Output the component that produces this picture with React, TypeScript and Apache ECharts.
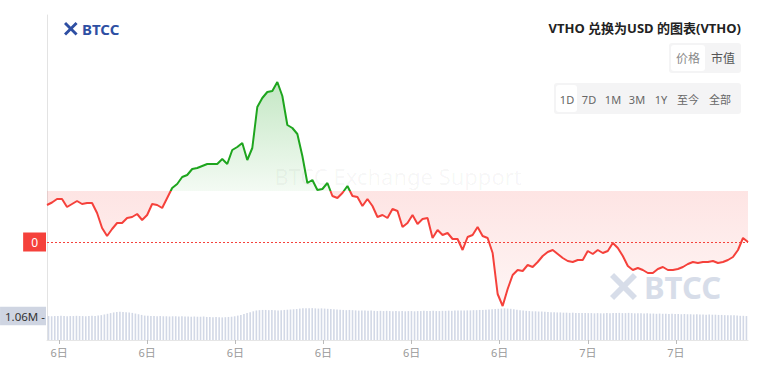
import React, { useEffect, useRef } from 'react';
import * as echarts from 'echarts';

// VTHO price in micro-USD (1e-6 USD), 1 day
const priceE6 = [
  2574, 2579, 2586, 2586, 2570, 2576, 2582, 2576, 2578, 2578,
  2558, 2528, 2512, 2526, 2538, 2538, 2548, 2550, 2556, 2544,
  2554, 2576, 2574, 2568, 2588, 2608, 2616, 2630, 2634, 2646,
  2648, 2652, 2656, 2656, 2656, 2666, 2656, 2684, 2690, 2698,
  2664, 2688, 2770, 2788, 2800, 2802, 2820, 2792, 2734, 2728,
  2716, 2672, 2618, 2624, 2604, 2606, 2618, 2592, 2588, 2598,
  2612, 2592, 2590, 2572, 2586, 2572, 2550, 2554, 2548, 2566,
  2562, 2530, 2538, 2554, 2536, 2546, 2548, 2508, 2524, 2514,
  2518, 2506, 2506, 2484, 2510, 2514, 2530, 2512, 2508, 2478,
  2396, 2372, 2406, 2434, 2444, 2442, 2454, 2450, 2460, 2472,
  2480, 2484, 2476, 2468, 2462, 2460, 2464, 2464, 2482, 2476,
  2484, 2478, 2482, 2498, 2488, 2472, 2452, 2444, 2448, 2444,
  2438, 2438, 2446, 2450, 2444, 2444, 2446, 2450, 2456, 2460,
  2458, 2460, 2460, 2462, 2458, 2460, 2464, 2470, 2484, 2508,
  2500,
];
const baselineE6 = 2602;

// Volume in millions
const volumeM = [
  1.06, 1.05, 1.06, 1.06, 1.07, 1.06, 1.05, 1.06, 1.06, 1.07, 1.06, 1.06, 1.05, 1.06, 1.07, 1.06,
  1.08, 1.10, 1.13, 1.16, 1.19, 1.22, 1.24, 1.25, 1.24, 1.23, 1.22, 1.20, 1.17, 1.14, 1.11,
  1.08, 1.07, 1.06, 1.06, 1.05, 1.06, 1.05, 1.05, 1.04, 1.05, 1.05, 1.04, 1.05, 1.04, 1.04, 1.03, 1.04, 1.03, 1.03, 1.04,
  1.02, 1.02, 1.01, 1.02, 1.01, 1.00, 1.01, 1.02, 1.03, 1.05, 1.08, 1.11,
  1.15, 1.19, 1.23, 1.27, 1.30, 1.32, 1.33, 1.33, 1.32, 1.33, 1.32, 1.31, 1.32, 1.33, 1.34, 1.35, 1.36, 1.37,
  1.39, 1.40, 1.41, 1.40, 1.41, 1.40, 1.39, 1.40, 1.39, 1.38, 1.37, 1.36, 1.35, 1.34, 1.33,
  1.32, 1.33, 1.32, 1.31, 1.30, 1.31, 1.30, 1.29, 1.30, 1.29, 1.28, 1.29, 1.28, 1.29, 1.28, 1.27, 1.28, 1.27, 1.28, 1.27,
  1.28, 1.28, 1.27, 1.28, 1.28, 1.29, 1.28, 1.28, 1.29, 1.28, 1.28, 1.29, 1.29, 1.30, 1.29, 1.30, 1.30, 1.31, 1.30, 1.31,
  1.31, 1.32, 1.32, 1.33, 1.33, 1.34, 1.35, 1.36, 1.37, 1.38,
  1.39, 1.40, 1.39, 1.38, 1.36, 1.34, 1.32, 1.30, 1.29, 1.28, 1.27, 1.27, 1.26, 1.26, 1.25,
  1.24, 1.23, 1.23, 1.22, 1.22, 1.21, 1.21, 1.20, 1.21, 1.20, 1.20, 1.19, 1.20, 1.19, 1.19,
  1.18, 1.19, 1.18, 1.18, 1.19, 1.18, 1.19, 1.19, 1.20, 1.19, 1.19, 1.20, 1.19, 1.18, 1.18,
  1.18, 1.17, 1.18, 1.17, 1.17, 1.16, 1.17, 1.16, 1.16, 1.15, 1.16, 1.15, 1.15, 1.14, 1.15, 1.14, 1.14, 1.13,
  1.14, 1.13, 1.13, 1.12, 1.13, 1.12, 1.12, 1.11, 1.11, 1.10, 1.10, 1.09, 1.09, 1.08, 1.07, 1.07, 1.06,
];

const timeLabels = ['6日', '6日', '6日', '6日', '6日', '6日', '7日', '7日'];
const lastPriceLabel = '0';
const lastVolumeLabel = '1.06M';
const titleText = 'VTHO 兑换为USD 的图表(VTHO)';
const typeButtons = ['价格', '市值'];
const rangeButtons = ['1D', '7D', '1M', '3M', '1Y', '至今', '全部'];

const GREEN = '#1ea51e';
const RED = '#f5413b';
const FONT = '"Noto Sans", "Noto Sans CJK SC", sans-serif';
const LOGO_D = 'M0 3L3 0L10 7L17 0L20 3L13 10L20 17L17 20L10 13L3 20L0 17L7 10Z';

export default function App() {
  const ref = useRef<HTMLDivElement>(null);

  useEffect(() => {
    const el = ref.current;
    if (!el) return;
    echarts.graphic.registerShape('btccLogo', echarts.graphic.extendPath(LOGO_D, {}));
    const chart = echarts.init(el, undefined, { renderer: 'svg' });

    const prices = priceE6;
    const base = baselineE6;
    const last = prices[prices.length - 1];
    const pMax = Math.max(...prices);
    const pMin = Math.min(...prices);
    const b = (pMax - base) / (pMax - pMin);
    const lastVol = volumeM[volumeM.length - 1];

    const rangeX = [567, 589, 613, 637, 661, 688, 720];

    const graphics: any[] = [
      { type: 'btccLogo', x: 64, y: 22, scaleX: 0.68, scaleY: 0.68, style: { fill: '#2e4fa3' } },
      { type: 'text', x: 82, y: 29, style: { text: 'BTCC', fill: '#2e4fa3', fontSize: 15, fontWeight: 'bold', fontFamily: FONT, verticalAlign: 'middle' } },
      { type: 'btccLogo', x: 610, y: 273, scaleX: 1.35, scaleY: 1.35, style: { fill: '#d7dde9' } },
      { type: 'text', x: 644, y: 287, style: { text: 'BTCC', fill: '#d7dde9', fontSize: 31, fontWeight: 'bold', fontFamily: FONT, verticalAlign: 'middle' } },
      { type: 'text', x: 398, y: 176, z: 10, style: { text: 'BTCC Exchange Support', fill: 'rgba(0,0,0,0.045)', fontSize: 22, fontFamily: FONT, align: 'center', verticalAlign: 'middle' } },
      { type: 'text', x: 741, y: 28, style: { text: titleText, fill: '#222', fontSize: 13, fontWeight: 'bold', fontFamily: FONT, align: 'right', verticalAlign: 'middle' } },
      { type: 'rect', shape: { x: 669, y: 43, width: 72, height: 30, r: 3 }, style: { fill: '#f4f4f5' } },
      { type: 'rect', shape: { x: 671, y: 45, width: 34, height: 26, r: 3 }, style: { fill: '#ffffff' } },
      { type: 'text', x: 688, y: 58, style: { text: typeButtons[0], fill: '#8a8a8a', fontSize: 12, fontFamily: FONT, align: 'center', verticalAlign: 'middle' } },
      { type: 'text', x: 723, y: 58, style: { text: typeButtons[1], fill: '#555', fontSize: 12, fontFamily: FONT, align: 'center', verticalAlign: 'middle' } },
      { type: 'rect', shape: { x: 554, y: 83, width: 187, height: 31, r: 3 }, style: { fill: '#f4f4f5' } },
      { type: 'rect', shape: { x: 556, y: 85, width: 21, height: 27, r: 3 }, style: { fill: '#ffffff' } },
      ...rangeButtons.map((t, i) => ({
        type: 'text', x: rangeX[i], y: 99,
        style: { text: t, fill: '#666', fontSize: 11, fontFamily: FONT, align: 'center', verticalAlign: 'middle' },
      })),
    ];

    chart.setOption({
      animation: false,
      backgroundColor: '#ffffff',
      textStyle: { fontFamily: FONT },
      grid: [
        { left: 47, right: 14, top: 15, height: 325 },
        { left: 47, right: 14, top: 300, height: 40 },
        { left: 15, width: 705, top: 300, height: 40 },
      ],
      xAxis: [
        { type: 'category', gridIndex: 0, boundaryGap: false, data: prices.map((_, i) => i), show: false },
        { type: 'category', gridIndex: 1, boundaryGap: true, data: volumeM.map((_, i) => i),
          axisLine: { show: true, lineStyle: { color: '#e6e6e6' } }, axisTick: { show: false }, axisLabel: { show: false } },
        { type: 'category', gridIndex: 2, boundaryGap: true, data: timeLabels,
          axisLine: { show: false },
          axisTick: { show: true, alignWithLabel: true, length: 4, lineStyle: { color: '#bbbbbb' } },
          axisLabel: { color: '#999', fontSize: 11, margin: 7, fontFamily: FONT } },
      ],
      yAxis: [
        { type: 'value', gridIndex: 0, min: 2304, max: 2954, axisLine: { show: true, lineStyle: { color: '#e3e3e3' } },
          axisTick: { show: false }, axisLabel: { show: false }, splitLine: { show: false } },
        { type: 'value', gridIndex: 1, min: 0, max: 1.77, show: false, splitLine: { show: false } },
        { type: 'value', gridIndex: 2, min: 0, max: 1, show: false, splitLine: { show: false } },
      ],
      visualMap: {
        type: 'piecewise', show: false, seriesIndex: 0, dimension: 1,
        pieces: [{ gt: base, lte: 100000, color: GREEN }, { gt: 0, lte: base, color: RED }],
      },
      graphic: { elements: graphics },
      series: [
        {
          type: 'line', xAxisIndex: 0, yAxisIndex: 0, data: prices, symbol: 'none', z: 3,
          lineStyle: { width: 2 },
          areaStyle: {
            origin: base, opacity: 1,
            color: new echarts.graphic.LinearGradient(0, 0, 0, 1, [
              { offset: 0, color: 'rgba(30,165,30,0.26)' },
              { offset: b, color: 'rgba(30,165,30,0.05)' },
              { offset: b, color: 'rgba(245,65,59,0.14)' },
              { offset: 1, color: 'rgba(245,65,59,0.05)' },
            ]),
          },
        },
        {
          type: 'bar', xAxisIndex: 1, yAxisIndex: 1, data: volumeM, barWidth: 1.6,
          itemStyle: { color: '#d2d8e6' },
          markLine: {
            symbol: 'none',
            lineStyle: { color: 'transparent' },
            label: {
              show: true, position: 'start', distance: 1, formatter: '{a|' + lastVolumeLabel + ' -}',
              rich: { a: { color: '#333', backgroundColor: '#cfd5e2', padding: [4, 1, 3, 5], fontSize: 11.5, fontFamily: FONT } },
            },
            data: [{ yAxis: lastVol }],
          },
        },
        {
          type: 'line', xAxisIndex: 0, yAxisIndex: 0, data: [], symbol: 'none', z: 4,
          color: RED, itemStyle: { color: RED }, lineStyle: { color: RED },
          markLine: {
            symbol: 'none',
            lineStyle: { color: RED, type: [2, 2], width: 1, opacity: 1 },
            label: {
              show: true, position: 'start', distance: 1, formatter: '{a|' + lastPriceLabel + '}',
              rich: { a: { color: '#fff', backgroundColor: RED, padding: [4, 8, 3, 8], fontSize: 12, fontFamily: FONT } },
            },
            data: [{ yAxis: last, lineStyle: { color: RED, type: [2, 2], width: 1 } }],
          },
        },
      ],
    });

    return () => chart.dispose();
  }, []);

  return <div ref={ref} style={{ position: 'fixed', left: 0, top: 0, width: 762, height: 374 }} />;
}
